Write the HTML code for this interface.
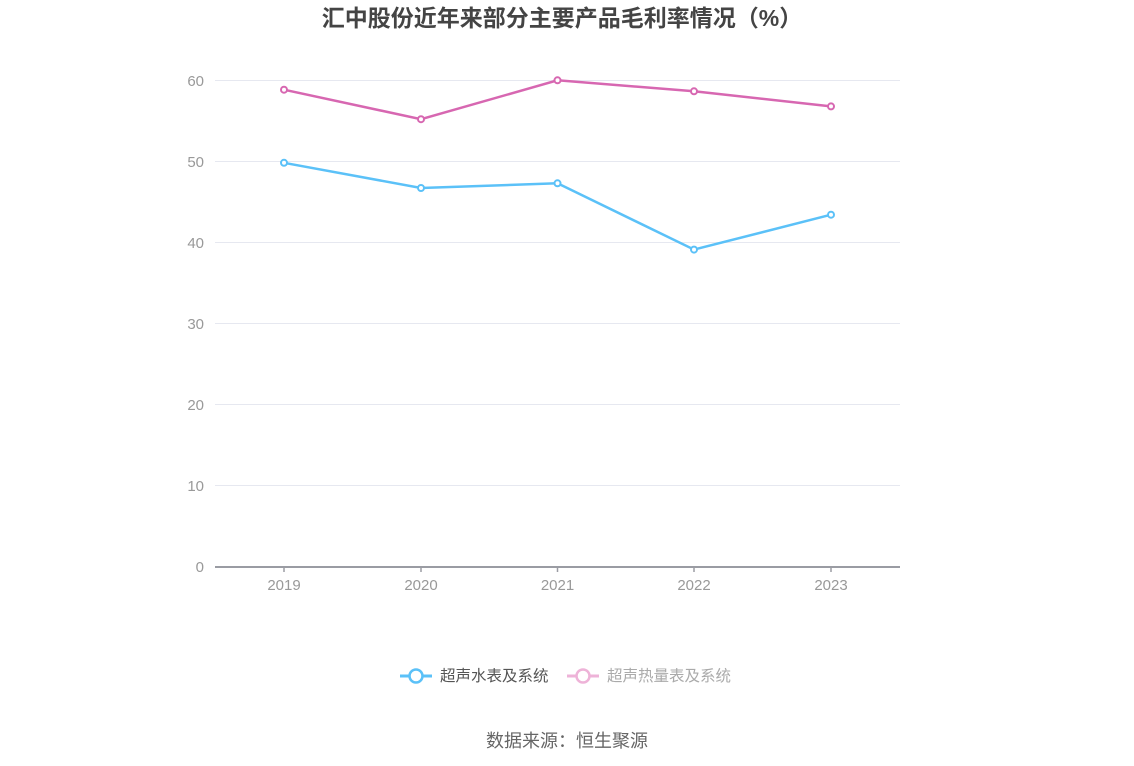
<!DOCTYPE html>
<html><head><meta charset="utf-8"><style>
body{margin:0;background:#fff;}
svg{display:block;font-family:"Liberation Sans","Noto Sans CJK SC",sans-serif;}
</style></head><body>
<svg width="1134" height="766" viewBox="0 0 1134 766">
<text x="562" y="26" text-anchor="middle" font-size="23" font-weight="bold" fill="#444">汇中股份近年来部分主要产品毛利率情况（%）</text>
<g stroke="#e6e8f0" stroke-width="1">
<line x1="215" y1="80.5" x2="900" y2="80.5"/>
<line x1="215" y1="161.5" x2="900" y2="161.5"/>
<line x1="215" y1="242.5" x2="900" y2="242.5"/>
<line x1="215" y1="323.5" x2="900" y2="323.5"/>
<line x1="215" y1="404.5" x2="900" y2="404.5"/>
<line x1="215" y1="485.5" x2="900" y2="485.5"/>
</g>
<line x1="215" y1="567" x2="900" y2="567" stroke="#9a9ca3" stroke-width="2"/>
<g stroke="#9a9ca3" stroke-width="1.5">
<line x1="284" y1="567" x2="284" y2="572"/><line x1="421" y1="567" x2="421" y2="572"/><line x1="557.5" y1="567" x2="557.5" y2="572"/><line x1="694" y1="567" x2="694" y2="572"/><line x1="831" y1="567" x2="831" y2="572"/>
</g>
<g font-size="15" fill="#999" text-anchor="end">
<text x="204" y="86">60</text><text x="204" y="167">50</text><text x="204" y="248">40</text><text x="204" y="329">30</text><text x="204" y="410">20</text><text x="204" y="491">10</text><text x="204" y="572">0</text>
</g>
<g font-size="15" fill="#999" text-anchor="middle">
<text x="284" y="590">2019</text><text x="421" y="590">2020</text><text x="557.5" y="590">2021</text><text x="694" y="590">2022</text><text x="831" y="590">2023</text>
</g>
<polyline points="284,162.8 421,188 557.5,183.3 694,249.6 831,214.7" fill="none" stroke="#5bc1f8" stroke-width="2.5"/>
<polyline points="284,89.7 421,119.2 557.5,80.3 694,91.3 831,106.4" fill="none" stroke="#d767b1" stroke-width="2.5"/>
<g fill="#fff" stroke="#5bc1f8" stroke-width="2">
<circle cx="284" cy="162.8" r="3"/><circle cx="421" cy="188" r="3"/><circle cx="557.5" cy="183.3" r="3"/><circle cx="694" cy="249.6" r="3"/><circle cx="831" cy="214.7" r="3"/>
</g>
<g fill="#fff" stroke="#d767b1" stroke-width="2">
<circle cx="284" cy="89.7" r="3"/><circle cx="421" cy="119.2" r="3"/><circle cx="557.5" cy="80.3" r="3"/><circle cx="694" cy="91.3" r="3"/><circle cx="831" cy="106.4" r="3"/>
</g>
<line x1="400" y1="676" x2="432" y2="676" stroke="#5bc1f8" stroke-width="3"/>
<circle cx="416" cy="676" r="6.5" fill="#fff" stroke="#5bc1f8" stroke-width="2.5"/>
<text x="440" y="681" font-size="15.5" fill="#555">超声水表及系统</text>
<line x1="567" y1="676" x2="599" y2="676" stroke="#eeb3d8" stroke-width="3"/>
<circle cx="583" cy="676" r="6.5" fill="#fff" stroke="#eeb3d8" stroke-width="2.5"/>
<text x="607" y="681" font-size="15.5" fill="#aaa">超声热量表及系统</text>
<text x="567" y="747" text-anchor="middle" font-size="18" fill="#666">数据来源：恒生聚源</text>
</svg>
</body></html>
